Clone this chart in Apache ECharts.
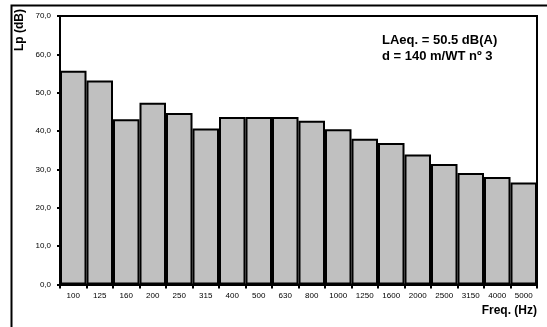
<!DOCTYPE html>
<html>
<head>
<meta charset="utf-8">
<script src="https://cdn.jsdelivr.net/npm/echarts@6/dist/echarts.min.js"></script>
<style>
  html, body { margin: 0; padding: 0; background: #fff; }
  #chart { width: 547px; height: 327px; }
</style>
</head>
<body>
<div id="chart"></div>
<script>
// third-octave bands (Hz) and measured Lp (dB)
const freqs = ['100', '125', '160', '200', '250', '315', '400', '500', '630', '800',
  '1000', '1250', '1600', '2000', '2500', '3150', '4000', '5000']
const levels = [55.7, 53.2, 43.1, 47.4, 44.7, 40.7, 43.7, 43.7, 43.7, 42.7,
  40.5, 38.0, 36.9, 33.9, 31.4, 29.1, 28.0, 26.6]
const yMin = 0
const yMax = 70
const yStep = 10

const chart = echarts.init(document.getElementById('chart'))

const font = 'Liberation Sans, Arial, sans-serif'

const option = {
  animation: false,
  grid: {
    left: 60,
    right: 10,
    top: 16,
    bottom: 42.5,
    show: true,
    borderColor: '#000',
    borderWidth: 2,
    backgroundColor: 'transparent'
  },
  xAxis: {
    type: 'category',
    data: freqs,
    boundaryGap: true,
    axisLine: { lineStyle: { color: '#000', width: 2 } },
    axisTick: { show: true, length: 4, lineStyle: { color: '#000', width: 2 } },
    axisLabel: { color: '#000', fontSize: 8, fontFamily: font, margin: 7, interval: 0 }
  },
  yAxis: {
    type: 'value',
    min: yMin,
    max: yMax,
    interval: yStep,
    axisLine: { show: true, lineStyle: { color: '#000', width: 2 } },
    axisTick: { show: true, length: 3, lineStyle: { color: '#000', width: 2 } },
    splitLine: { show: false },
    axisLabel: {
      color: '#000',
      fontSize: 8,
      fontFamily: font,
      margin: 9,
      formatter: v => v.toFixed(1).replace('.', ',')
    }
  },
  series: [{
    type: 'bar',
    data: levels,
    barCategoryGap: 0,
    itemStyle: { color: '#c0c0c0', borderColor: '#000', borderWidth: 2 }
  }],
  graphic: [
    {
      type: 'text',
      x: 26,
      y: 51,
      rotation: Math.PI / 2,
      z: 1,
      style: {
        text: 'Lp (dB)',
        font: 'bold 12px ' + font,
        fill: '#000',
        textAlign: 'left',
        textVerticalAlign: 'bottom'
      }
    },
    {
      type: 'rect',
      shape: { x: 0, y: 0, width: 547, height: 5 },
      style: { fill: '#fff' },
      z: 5,
      silent: true
    },
    {
      type: 'rect',
      shape: { x: 11.5, y: 5.5, width: 560, height: 340 },
      style: { fill: 'none', stroke: '#000', lineWidth: 2 },
      z: 6,
      silent: true
    },
    {
      type: 'text',
      left: 382,
      top: 32,
      style: {
        text: 'LAeq. = 50.5 dB(A)\nd = 140 m/WT nº 3',
        font: 'bold 13px ' + font,
        lineHeight: 16.5,
        fill: '#000'
      }
    },
    {
      type: 'text',
      right: 10,
      top: 305,
      style: {
        text: 'Freq. (Hz)',
        font: 'bold 12px ' + font,
        fill: '#000'
      }
    }
  ]
}

chart.setOption(option)
</script>
</body>
</html>
